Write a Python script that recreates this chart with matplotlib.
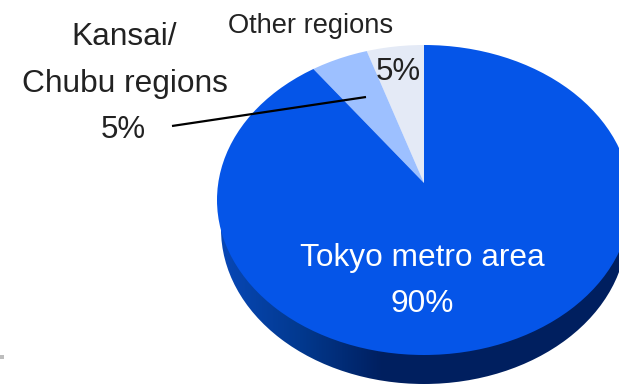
import numpy as np
import matplotlib
matplotlib.use('Agg')
import matplotlib.pyplot as plt
from matplotlib.patches import Circle, Ellipse, Rectangle
from matplotlib.colors import LinearSegmentedColormap

plt.rcParams['font.family'] = ['Liberation Sans', 'DejaVu Sans']

regions = ['Other regions', 'Kansai/\nChubu regions', 'Tokyo metro area']
shares = [5, 5, 90]
slice_colors = ['#E4EAF6', '#9DC0FF', '#0555E8']

W, H = 619, 385
CX, CY = 424, 200
RX, RY = 207, 155


def px(x, y):
    # pixel position -> data coords of the unit-circle pie
    return (x - CX) / RX, (CY - y) / RY


fig = plt.figure(figsize=(W / 100, H / 100), dpi=100)
ax = fig.add_axes([0, 0, 1, 1])

# the apex sits above the ellipse centre, tilted pie
apex = px(424, 183)
wedges, _ = ax.pie(shares, colors=slice_colors, startangle=90, center=apex, radius=2.5,
                   wedgeprops={'linewidth': 0})

rim = Circle((0, 0), 1, transform=ax.transData)
for w in wedges:
    w.set_clip_on(True)
    w.set_clip_path(rim)
    w.set_zorder(3)

# side wall below the top face, dark gradient
wall_cmap = LinearSegmentedColormap.from_list(
    'wall', [(0, '#0848B8'), (0.2, '#02398F'), (0.4, '#001F5F'), (1, '#002060')])
grad = np.linspace(0, 1, 256).reshape(1, -1)
depth = 29 / RY
im = ax.imshow(grad, cmap=wall_cmap, extent=[-1, 1, -1 - depth, 0], aspect='auto', zorder=1)
wall = Ellipse((0, -depth), 2 * 203 / RX, 2, transform=ax.transData)
im.set_clip_path(wall)

ax.set_aspect('auto')
x0, y0 = px(0, H)
x1, y1 = px(W, 0)
ax.set_xlim(x0, x1)
ax.set_ylim(y0, y1)
ax.axis('off')

ax.add_patch(Rectangle(px(0, 359), 4 / RX, 4 / RY, fc='#BDBDBD', ec='none', zorder=2))

ax.plot(*zip(px(172, 126), px(366, 97)), color='black', lw=1.6, zorder=5, solid_capstyle='butt')


def label(x, y, s, color='#222222', size=22.8):
    ax.text(*px(x, y), s, color=color, fontsize=size, ha='center', va='baseline', zorder=6)


other, kansai = regions[0], regions[1].split('\n')
label(311, 33, other, size=19.6)
label(398, 80, '%d%%' % shares[0], size=22.5)
label(124, 45, kansai[0])
label(124.5, 92, kansai[1])
label(123.5, 138, '%d%%' % shares[1], size=22.5)
label(422, 266, regions[2], color='white')
label(422, 312, '%d%%' % shares[2], color='white')

fig.savefig('out.png', dpi=100)
